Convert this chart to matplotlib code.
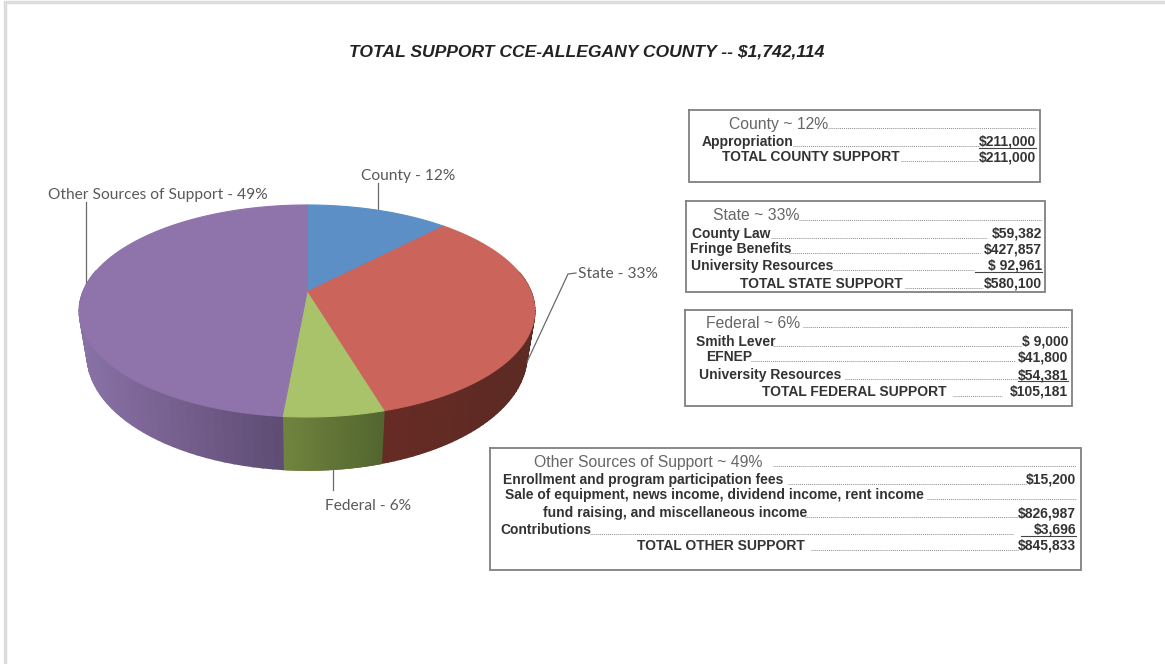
import numpy as np
import matplotlib
matplotlib.use('Agg')
import matplotlib.pyplot as plt
from matplotlib.colors import to_rgb

# Data
sources = ['County', 'State', 'Federal', 'Other Sources of Support']
support = [211000, 580100, 105181, 845833]
percents = [12, 33, 6, 49]
title = 'TOTAL SUPPORT CCE-ALLEGANY COUNTY -- $1,742,114'

county_rows = ['Appropriation', 'TOTAL COUNTY SUPPORT']
county_amounts = ['$211,000', '$211,000']
state_rows = ['County Law', 'Fringe Benefits', 'University Resources', 'TOTAL STATE SUPPORT']
state_amounts = ['$59,382', '$427,857', '$ 92,961', '$580,100']
federal_rows = ['Smith Lever', 'EFNEP', 'University Resources', 'TOTAL FEDERAL SUPPORT']
federal_amounts = ['$ 9,000', '$41,800', '$54,381', '$105,181']
other_rows = ['Enrollment and program participation fees',
              'Sale of equipment, news income, dividend income, rent income',
              'fund raising, and miscellaneous income',
              'Contributions', 'TOTAL OTHER SUPPORT']
other_amounts = ['$15,200', '', '$826,987', '$3,696', '$845,833']

# Styles
top_colors = ['#5b8fc6', '#cb645b', '#a9c36b', '#8f74ac']
side_light = ['#3f6a94', '#662b24', '#71843f', '#8a72a6']
side_dark = ['#3f6a94', '#5c2a24', '#52652e', '#5f4c74']
side_range = [(307, 443), (383, 530), (283, 383), (84, 283)]

CX, CY = 307, 292      # apex of the pie on screen
R, H, K = 224, 102.6, 0.179   # perspective of the top face


def rim(theta):
    # theta clockwise from 12 o'clock, returns screen coords of the top rim
    u, v = np.sin(theta), np.cos(theta)
    w = 1 + K * v
    return CX + R * u / w, CY - H * v / w


def lower_rim(theta):
    x, y = rim(theta)
    return CX + (x - CX) * 0.965, CY + (y - CY) * 1.08 + 43


fig = plt.figure(figsize=(11.65, 6.64), dpi=100)
ax = fig.add_axes([0, 0, 1, 1])
ax.set_xlim(0, 1165)
ax.set_ylim(664, 0)
ax.axis('off')

# page edge
ax.plot([4.5, 4.5, 1165], [664, 2, 2], color='#dcdcdc', lw=2.5, solid_joinstyle='miter')

# pie side first, then top faces over it
edges = np.cumsum([0] + support) / sum(support) * 2 * np.pi
for i in range(len(support)):
    steps = np.linspace(edges[i], edges[i + 1], 80)
    light, dark = np.array(to_rgb(side_light[i])), np.array(to_rgb(side_dark[i]))
    lo, hi = side_range[i]
    for j in range(len(steps) - 1):
        a = steps[j:j + 2]
        # only the front of the pie shows a side
        if np.cos(a.mean()) > 0.2:
            continue
        x1, y1 = rim(a)
        x2, y2 = lower_rim(a)
        # shade goes from left to right inside each slice
        mix = np.clip((x2.mean() - lo) / (hi - lo), 0, 1)
        col = light + (dark - light) * mix
        ax.fill([x1[0], x1[1], x2[1], x2[0]], [y1[0], y1[1], y2[1], y2[0]],
                color=col, lw=1.2, zorder=2)

for i in range(len(support)):
    steps = np.linspace(edges[i], edges[i + 1], 120)
    x, y = rim(steps)
    ax.fill(np.r_[CX, x], np.r_[CY, y], color=top_colors[i], lw=0.8, zorder=3)

# pie labels
label_font = dict(family='Lato', fontsize=11.2, color='#595959', va='center')
lab_x = [361, 578, 325, 48]
lab_y = [176, 274, 506, 195]
for name, pct, lx, ly in zip(sources, percents, lab_x, lab_y):
    ax.text(lx, ly, f'{name} - {pct}%', **label_font)
ax.plot([378, 378], [183, 210], color='#6a6a6a', lw=0.9, zorder=1)
ax.plot([85.5, 85.5], [202, 285], color='#6a6a6a', lw=0.9, zorder=1)
ax.plot([527, 568, 576], [362, 274, 273], color='#6a6a6a', lw=0.9, zorder=4)
ax.plot([333, 333], [468, 490], color='#6a6a6a', lw=0.9, zorder=1)

ax.text(587, 52, title, family='Liberation Sans', fontsize=12.6, fontweight='bold',
        fontstyle='italic', color='#222222', ha='center', va='center')


def box(left, right, top, bottom):
    ax.plot([left, right, right, left, left], [top, top, bottom, bottom, top],
            color='#808080', lw=1.3, solid_joinstyle='miter')


def leader(x0, x1, y):
    ax.plot([x0, x1], [y, y], color='#8a8a8a', lw=0.7, ls=(0, (1, 1)))


def head(text, x, y, lead_from, lead_to):
    ax.text(x, y, text, family='Liberation Sans', fontsize=11.3, color='#666666', va='center')
    leader(lead_from, lead_to, y + 4)


def row(text, x, y, amount, right, lead_from, lead_to, size=10, underline=None):
    ax.text(x, y, text, family='Liberation Sans', fontsize=size, fontweight='bold',
            color='#333333', va='center')
    if amount:
        ax.text(right, y, amount, family='Liberation Sans', fontsize=size, fontweight='bold',
                color='#333333', va='center', ha='right')
    leader(lead_from, lead_to, y + 4)
    if underline:
        ax.plot([underline, right], [y + 6, y + 6], color='#444444', lw=0.8)


# County box
box(689, 1040, 110, 182)
head(f'County ~ {percents[0]}%', 729, 124, 828, 1036)
row(county_rows[0], 702, 142, county_amounts[0], 1036, 793, 979, underline=979)
row(county_rows[1], 722, 157, county_amounts[1], 1036, 901, 978)

# State box
box(686, 1045, 201, 292)
head(f'State ~ {percents[1]}%', 713, 216, 799, 1042)
st_x = [692, 690, 691, 740]
st_y = [234, 249, 266, 284]
st_from = [771, 789, 833, 905]
st_to = [987, 980, 975, 983]
for k in range(4):
    row(state_rows[k], st_x[k], st_y[k], state_amounts[k], 1042, st_from[k], st_to[k],
        underline=975 if k == 2 else None)

# Federal box
box(685, 1072, 310, 406)
head(f'Federal ~ {percents[2]}%', 706, 323, 803, 1068)
fe_x = [696, 706, 699, 762]
fe_y = [342, 357, 375, 392]
fe_from = [773, 751, 845, 953]
fe_to = [1022, 1015, 1018, 1002]
for k in range(4):
    row(federal_rows[k], fe_x[k], fe_y[k], federal_amounts[k], 1068, fe_from[k], fe_to[k],
        underline=1018 if k == 2 else None)

# Other box
box(490, 1081, 448, 570)
head(f'Other Sources of Support ~ {percents[3]}%', 534, 462, 773, 1076)
ot_x = [503, 505, 543, 500, 637]
ot_y = [480, 495, 513, 530, 546]
ot_from = [788, 927, 805, 590, 811]
ot_to = [1026, 1076, 1020, 1014, 1018]
for k in range(5):
    row(other_rows[k], ot_x[k], ot_y[k], other_amounts[k], 1076, ot_from[k], ot_to[k],
        underline=1021 if k == 3 else None)

fig.savefig('out.png', dpi=100)
